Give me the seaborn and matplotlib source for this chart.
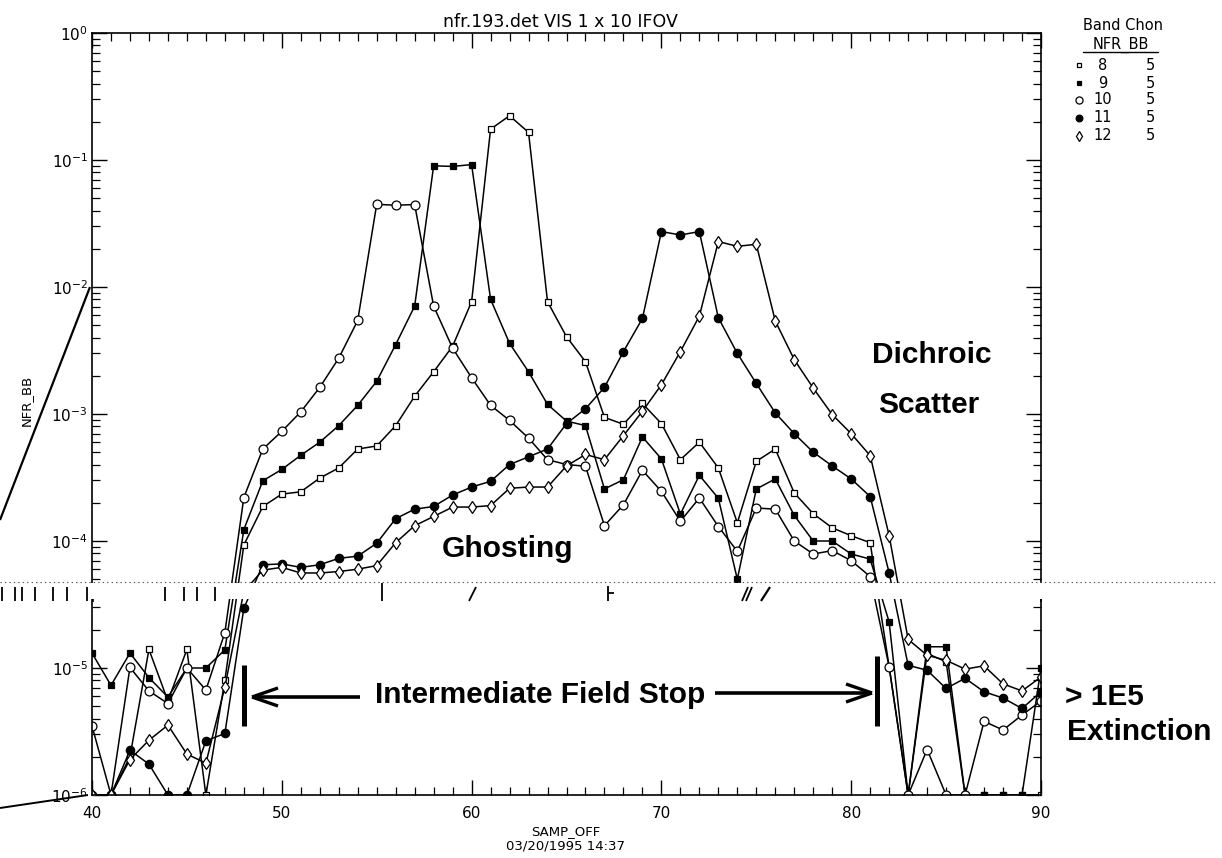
import matplotlib
matplotlib.use("Agg")
import matplotlib.pyplot as plt
from matplotlib.lines import Line2D
from matplotlib.patches import Rectangle
from matplotlib.ticker import FixedLocator, MultipleLocator, NullFormatter, LogFormatterSciNotation
import numpy as np
import pandas as pd
import seaborn as sns

# ---------------------------------------------------------------- data
samp_off = list(range(40, 91))

band8 = [1e-6, 1e-6, 2.0e-6, 1.4e-5, 5.5e-6, 1.4e-5, 1e-6, 8.0e-6, 9.3e-5, 1.87e-4,
         2.34e-4, 2.44e-4, 3.13e-4, 3.76e-4, 5.3e-4, 5.6e-4, 8.1e-4, 1.38e-3, 2.15e-3, 3.42e-3,
         7.66e-3, 0.175, 0.223, 0.165, 7.66e-3, 4.06e-3, 2.58e-3, 9.4e-4, 8.3e-4, 1.21e-3,
         8.4e-4, 4.37e-4, 6.0e-4, 3.76e-4, 1.39e-4, 4.24e-4, 5.3e-4, 2.39e-4, 1.64e-4, 1.27e-4,
         1.1e-4, 9.7e-5, 1.02e-5, 1e-6, 1.3e-5, 1.12e-5, 1e-6, 1e-6, 1e-6, 1e-6,
         1e-6]

band9 = [1.31e-5, 7.3e-6, 1.31e-5, 8.4e-6, 5.9e-6, 1.0e-5, 1.0e-5, 1.39e-5, 1.23e-4, 2.98e-4,
         3.66e-4, 4.73e-4, 6.0e-4, 8.1e-4, 1.17e-3, 1.81e-3, 3.52e-3, 7.07e-3, 0.090, 0.089,
         0.092, 8.0e-3, 3.6e-3, 2.15e-3, 1.19e-3, 8.8e-4, 8.1e-4, 2.57e-4, 3.04e-4, 6.6e-4,
         4.43e-4, 1.63e-4, 3.29e-4, 2.17e-4, 5.0e-5, 2.57e-4, 3.08e-4, 1.59e-4, 1.0e-4, 1.0e-4,
         7.9e-5, 7.2e-5, 2.3e-5, 1e-6, 1.47e-5, 1.47e-5, 1e-6, 1e-6, 1e-6, 1e-6,
         1.0e-5]

band10 = [3.5e-6, 1e-6, 1.01e-5, 6.6e-6, 5.25e-6, 1.0e-5, 6.7e-6, 1.9e-5, 2.2e-4, 5.3e-4,
          7.3e-4, 1.04e-3, 1.62e-3, 2.75e-3, 5.45e-3, 0.0448, 0.0440, 0.0446, 7.07e-3, 3.3e-3,
          1.93e-3, 1.17e-3, 8.9e-4, 6.46e-4, 4.37e-4, 4.0e-4, 3.88e-4, 1.32e-4, 1.93e-4, 3.6e-4,
          2.46e-4, 1.43e-4, 2.18e-4, 1.30e-4, 8.3e-5, 1.82e-4, 1.78e-4, 1.0e-4, 7.9e-5, 8.4e-5,
          7.0e-5, 5.25e-5, 1.02e-5, 1e-6, 2.28e-6, 1e-6, 1e-6, 3.8e-6, 3.25e-6, 4.26e-6,
          5.5e-6]

band11 = [1e-6, 1e-6, 2.25e-6, 1.75e-6, 1e-6, 1e-6, 2.67e-6, 3.05e-6, 2.95e-5, 6.5e-5,
          6.6e-5, 6.2e-5, 6.5e-5, 7.3e-5, 7.6e-5, 9.6e-5, 1.5e-4, 1.78e-4, 1.87e-4, 2.3e-4,
          2.66e-4, 2.95e-4, 4.0e-4, 4.6e-4, 5.3e-4, 8.4e-4, 1.1e-3, 1.62e-3, 3.1e-3, 5.65e-3,
          0.0273, 0.0257, 0.0273, 5.73e-3, 3.0e-3, 1.74e-3, 1.02e-3, 7.0e-4, 5.0e-4, 3.9e-4,
          3.08e-4, 2.24e-4, 5.6e-5, 1.05e-5, 9.6e-6, 6.9e-6, 8.3e-6, 6.5e-6, 5.8e-6, 4.8e-6,
          6.5e-6]

band12 = [1e-6, 1e-6, 1.9e-6, 2.7e-6, 3.55e-6, 2.1e-6, 1.78e-6, 7.1e-6, 4.0e-5, 5.9e-5,
          6.2e-5, 5.6e-5, 5.6e-5, 5.75e-5, 6.0e-5, 6.4e-5, 9.7e-5, 1.32e-4, 1.56e-4, 1.85e-4,
          1.85e-4, 1.9e-4, 2.6e-4, 2.66e-4, 2.66e-4, 3.9e-4, 4.8e-4, 4.37e-4, 6.76e-4, 1.05e-3,
          1.7e-3, 3.1e-3, 5.9e-3, 0.0228, 0.0209, 0.0217, 5.4e-3, 2.68e-3, 1.6e-3, 9.9e-4,
          7.0e-4, 4.7e-4, 1.1e-4, 1.68e-5, 1.26e-5, 1.15e-5, 9.8e-6, 1.04e-5, 7.5e-6, 6.6e-6,
          8.5e-6]

bands = ["8", "9", "10", "11", "12"]
chan = ["5", "5", "5", "5", "5"]

title = "nfr.193.det VIS 1 x 10 IFOV"
x_label = "SAMP_OFF"
date_label = "03/20/1995 14:37"
y_label = "NFR_BB"

df = pd.DataFrame({"SAMP_OFF": samp_off, "8": band8, "9": band9, "10": band10,
                   "11": band11, "12": band12})
long = df.melt(id_vars="SAMP_OFF", var_name="band", value_name="NFR_BB")

# marker style per band: (marker, face colour, size)
marker_style = {
    "8": ("s", "white", 4.2),
    "9": ("s", "black", 4.2),
    "10": ("o", "white", 6.4),
    "11": ("o", "black", 6.0),
    "12": ("d", "white", 6.4),
}

# ---------------------------------------------------------------- figure
W, H = 1222, 858
sns.set_style("ticks")
plt.rcParams["font.family"] = ["DejaVu Sans"]
plt.rcParams["mathtext.fontset"] = "dejavusans"
plt.rcParams["text.color"] = "black"
plt.rcParams["axes.labelcolor"] = "black"


def fx(px):
    return px / W


def fy(py):
    return 1 - py / H


fig = plt.figure(figsize=(W / 100, H / 100), dpi=100, facecolor="white")
ax = fig.add_axes([fx(92), fy(795), (1041 - 92) / W, (795 - 33) / H])
ax.set_facecolor("white")

for b in bands:
    m, face, size = marker_style[b]
    sns.lineplot(data=long[long["band"] == b], x="SAMP_OFF", y="NFR_BB", ax=ax,
                 color="black", linewidth=1.1, marker=m, markersize=size,
                 markerfacecolor=face, markeredgecolor="black", markeredgewidth=0.9,
                 errorbar=None, legend=False, sort=False)

ax.set_yscale("log")
ax.set_xlim(40, 90)
ax.set_ylim(1e-6, 1.0)
decades = [10.0 ** k for k in range(-6, 1)]
minors = [m * 10.0 ** k for k in range(-6, 0) for m in range(2, 10)]
ax.xaxis.set_major_locator(MultipleLocator(10))
ax.xaxis.set_minor_locator(MultipleLocator(1))
ax.yaxis.set_major_locator(FixedLocator(decades))
ax.yaxis.set_minor_locator(FixedLocator(minors))
ax.yaxis.set_major_formatter(LogFormatterSciNotation())
ax.yaxis.set_minor_formatter(NullFormatter())
ax.tick_params(which="both", direction="in", top=True, right=True, colors="black",
               labelsize=11)
ax.tick_params(which="major", length=11, width=1.0)
ax.tick_params(which="minor", length=6, width=0.9)
ax.tick_params(axis="x", pad=8)
ax.tick_params(axis="y", pad=3)
for s in ax.spines.values():
    s.set_linewidth(1.2)
    s.set_color("black")
ax.set_xlabel("")
ax.set_ylabel("")
ax.grid(False)

# titles and axis captions
fig.text(fx(560), fy(22), title, ha="center", va="center", fontsize=12.5)
fig.text(fx(566), fy(832), x_label, ha="center", va="center", fontsize=9.5)
fig.text(fx(566), fy(846), date_label, ha="center", va="center", fontsize=9.5)
fig.text(fx(26), fy(400), y_label, ha="center", va="center", rotation=90, fontsize=9.5)

# legend block
fig.text(fx(1083), fy(25), "Band Chon", ha="left", va="center", fontsize=10.5)
fig.text(fx(1121), fy(45), "NFR_BB", ha="center", va="center", fontsize=10.5)
fig.add_artist(Line2D([fx(1083), fx(1158)], [fy(52), fy(52)], color="black", lw=1.0,
                      transform=fig.transFigure))
row_y = [65, 83, 100, 118, 136]
for b, c, ry in zip(bands, chan, row_y):
    m, face, size = marker_style[b]
    fig.add_artist(Line2D([fx(1079)], [fy(ry)], marker=m, markersize=size * 0.8,
                          markerfacecolor=face, markeredgecolor="black",
                          markeredgewidth=0.9, linestyle="none",
                          transform=fig.transFigure))
    fig.text(fx(1103), fy(ry), b, ha="center", va="center", fontsize=10.5)
    fig.text(fx(1150), fy(ry), c, ha="center", va="center", fontsize=10.5)

# annotations
bold = dict(family="Liberation Sans", weight="bold", fontsize=21.5, color="black")
fig.text(fx(872), fy(363), "Dichroic", ha="left", va="baseline", **bold)
fig.text(fx(878), fy(413), "Scatter", ha="left", va="baseline", **bold)
fig.text(fx(442), fy(557), "Ghosting", ha="left", va="baseline", **bold)
fig.text(fx(375), fy(703), "Intermediate Field Stop", ha="left", va="baseline", **bold)
fig.text(fx(1065), fy(705), "> 1E5", ha="left", va="baseline", **bold)
fig.text(fx(1067), fy(740), "Extinction", ha="left", va="baseline", **bold)


def seg(p0, p1, lw=1.5, **kw):
    fig.add_artist(Line2D([fx(p0[0]), fx(p1[0])], [fy(p0[1]), fy(p1[1])],
                          color="black", lw=lw, solid_capstyle="butt",
                          transform=fig.transFigure, **kw))


# field-stop arrows and stop bars
seg((252, 697), (360, 697), lw=2.6)
seg((252, 697), (278, 688), lw=2.4)
seg((252, 697), (278, 706), lw=2.4)
seg((244, 665), (244, 726), lw=3.6)
seg((715, 693), (872, 693), lw=2.6)
seg((872, 693), (846, 684), lw=2.4)
seg((872, 693), (846, 702), lw=2.4)
seg((877, 656), (877, 726), lw=3.6)

# splice strip across the plot
fig.add_artist(Rectangle((0, fy(599)), 1, (599 - 582.5) / H, facecolor="white",
                         edgecolor="none", transform=fig.transFigure, zorder=5))
fig.add_artist(Line2D([fx(0), fx(1215)], [fy(581.5), fy(581.5)], color="0.3", lw=0.8,
                      linestyle=(0, (1.2, 2.8)), transform=fig.transFigure, zorder=6))
for tx in [2, 15, 22, 35, 53, 67, 87, 165, 184, 197, 215]:
    seg((tx, 587), (tx, 601), lw=1.3, zorder=6)
seg((382, 583), (382, 601), lw=1.3, zorder=6)
seg((476, 587), (469, 601), lw=1.3, zorder=6)
seg((608, 586), (608, 601), lw=1.3, zorder=6)
seg((608, 593), (614, 593), lw=1.3, zorder=6)
seg((748, 587), (742, 601), lw=1.3, zorder=6)
seg((752, 587), (746, 601), lw=1.3, zorder=6)
seg((770, 587), (761, 601), lw=1.6, zorder=6)
seg((93, 599), (93, 602), lw=1.2, zorder=6)
seg((1041, 599), (1041, 602), lw=1.2, zorder=6)

# stray scan strokes at the left edge
seg((90, 287), (0, 520), lw=1.6)
seg((0, 808), (88, 795), lw=1.4)

fig.savefig("out.png", dpi=100, facecolor="white")
